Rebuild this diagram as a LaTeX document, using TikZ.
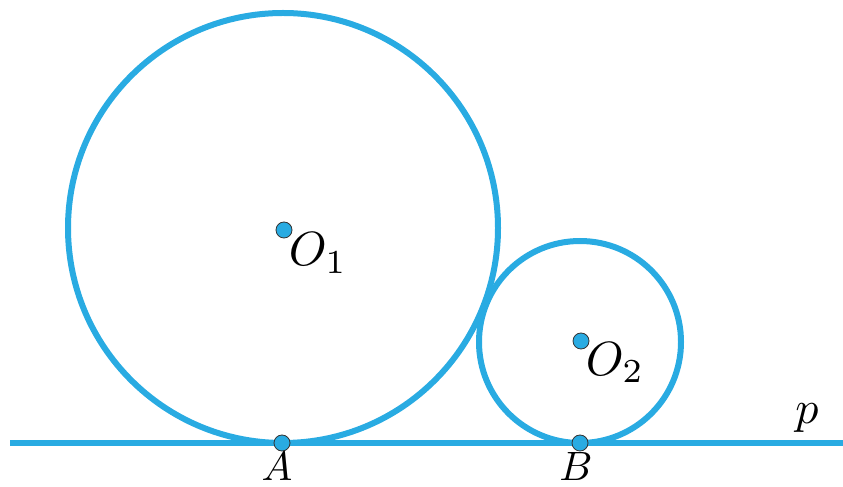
\documentclass[tikz,border=0pt]{standalone}
\usepackage{tikz}
\definecolor{cblue}{RGB}{41,171,226}
\begin{document}
\begin{tikzpicture}[x=1pt,y=1pt,
  curve/.style={draw=cblue,line width=6pt},
  pt/.style={circle,draw=black!80,line width=0.8pt,fill=cblue,minimum size=16pt,inner sep=0pt},
  biglbl/.style={scale=4.8,inner sep=0pt,anchor=base west},
  smalllbl/.style={scale=4.1,inner sep=0pt,anchor=base},
  plbl/.style={scale=4.6,inner sep=0pt,anchor=base}]
\useasboundingbox (0,0) rectangle (843,487);
\coordinate (L) at (10,44);
\coordinate (R) at (843,44);
\draw[curve] (L) -- (R);
\draw[curve] (283,259) circle (215);
\draw[curve] (580,145) circle (101);
\node[pt] (O1) at (284,257) {};
\node[pt] (O2) at (581,146) {};
\node[pt] (A) at (282,44) {};
\node[pt] (B) at (580,44) {};
\node[biglbl] (lO1) at (288,221) {$O_1$};
\node[biglbl] (lO2) at (585,112) {$O_2$};
\node[smalllbl] (lA) at (277,7) {$A$};
\node[smalllbl] (lB) at (576,7) {$B$};
\node[plbl] (lp) at (807,64) {$p$};
\end{tikzpicture}
\end{document}
